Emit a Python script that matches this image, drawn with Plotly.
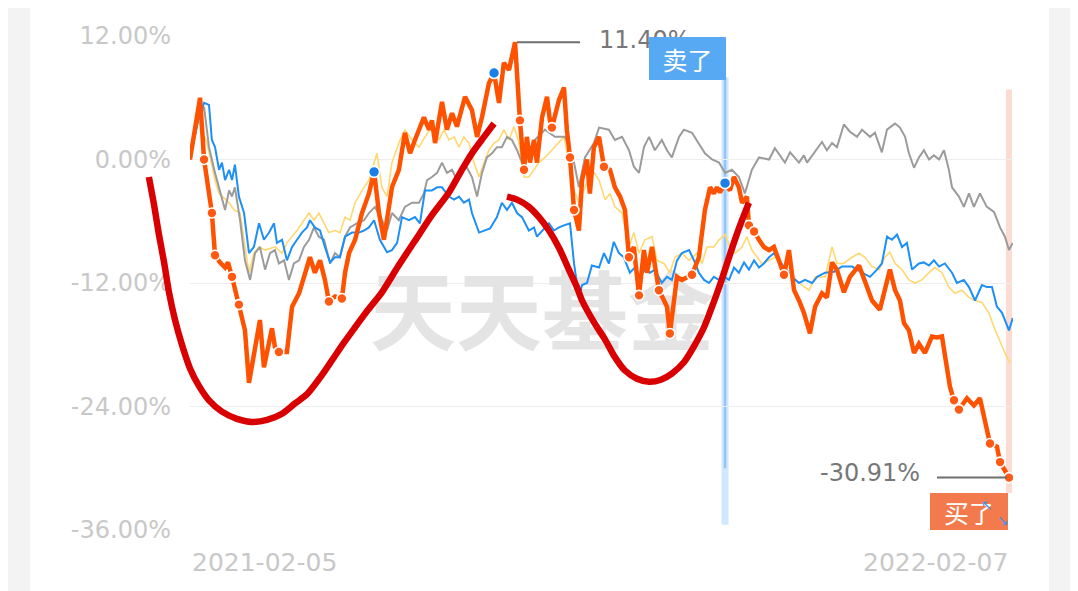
import pandas as pd
import plotly.graph_objects as go

# ---------------- data (days since start, return in %) ----------------
START = pd.Timestamp("2021-02-05")
END_DAY = 367  # 2022-02-07

orange_points = [
    (0, 0.0), (4.5, 6.0), (6.3, 0.0), (9.8, -5.2), (11.2, -9.3), (13.4, -10.0), (15.7, -10.5), (17.0, -10.0), (18.8, -11.4), (21.9, -14.1),
    (24.6, -16.6), (26.4, -21.7), (28.6, -18.8), (31.3, -15.6), (33.1, -20.2), (36.7, -16.4), (38.0, -18.2), (39.8, -18.7), (43.4, -18.7), (45.7, -14.3),
    (48.8, -13.0), (50.1, -12.0), (52.4, -10.4), (53.7, -9.5), (55.9, -11.0), (58.2, -9.8), (60.4, -11.7), (62.2, -13.8), (64.9, -13.3), (68.0, -13.5),
    (69.4, -11.0), (71.2, -9.1), (73.9, -7.8), (77.0, -5.2), (80.1, -3.3), (82.4, -1.2), (84.6, -5.2), (86.8, -7.8), (90.4, -2.7), (93.5, -1.0),
    (96.2, 2.6), (98.5, 0.6), (100.7, 1.9), (104.7, 4.1), (107.0, 2.9), (108.3, 3.8), (109.7, 1.6), (112.8, 5.6), (115.0, 2.9), (117.3, 4.5),
    (119.5, 3.2), (123.1, 6.1), (126.2, 4.8), (128.5, 2.2), (130.7, 4.1), (133.8, 7.4), (136.1, 8.4), (138.3, 5.5), (140.5, 9.4), (142.8, 8.7),
    (145.5, 11.4), (147.3, 4.5), (147.7, 3.8), (149.5, -1.0), (150.8, 2.2), (152.2, -0.3), (154.0, 1.9), (155.3, -0.3), (157.6, 4.1), (159.8, 6.1),
    (161.1, 3.8), (162.0, 3.1), (165.2, 5.8), (167.4, 7.0), (168.7, 2.9), (170.1, 0.2), (171.9, -4.9), (174.1, -6.9), (175.5, -2.0), (177.7, 0.0),
    (179.0, -3.3), (180.8, 1.2), (183.1, 2.2), (185.3, -0.7), (188.0, -1.0), (190.2, -2.7), (192.5, -3.6), (194.7, -4.9), (196.5, -9.5), (198.7, -8.5),
    (201.0, -13.2), (203.2, -8.8), (204.6, -11.0), (206.8, -8.5), (209.9, -12.7), (212.2, -13.7), (213.5, -14.3), (214.8, -16.9), (216.6, -13.9), (218.0, -11.4),
    (220.2, -11.7), (223.4, -11.4), (224.7, -11.2), (227.8, -9.5), (230.5, -4.9), (232.8, -2.7), (234.5, -3.3), (235.9, -2.7), (237.2, -3.2), (239.5, -2.3),
    (241.7, -3.0), (243.5, -1.7), (245.7, -2.7), (247.1, -4.2), (249.3, -3.6), (250.2, -6.4), (252.5, -7.0), (254.7, -7.8), (256.9, -8.5), (259.2, -8.8),
    (261.4, -8.5), (263.6, -9.8), (265.9, -11.2), (268.1, -8.8), (270.4, -12.7), (272.6, -13.7), (274.8, -14.9), (277.5, -16.9), (279.8, -14.3), (282.9, -13.0),
    (285.1, -13.4), (287.4, -10.0), (289.6, -10.7), (292.7, -12.9), (295.4, -11.4), (299.5, -10.3), (302.1, -11.7), (305.3, -13.7), (308.8, -14.6), (311.1, -12.4),
    (313.3, -10.7), (315.6, -12.7), (317.8, -13.7), (319.6, -15.9), (321.8, -16.6), (324.1, -18.8), (326.3, -17.9), (329.0, -18.8), (332.1, -17.2), (334.4, -17.3),
    (336.6, -17.2), (338.8, -20.2), (340.2, -22.1), (342.0, -23.4), (344.2, -24.3), (347.8, -23.2), (350.9, -23.9), (353.6, -23.2), (355.8, -25.3), (358.1, -27.6),
    (361.2, -27.9), (362.6, -29.4), (366.6, -30.91),
]

blue_points = [
    (0, 0.0), (3.6, 3.8), (6.3, 5.5), (8.5, 5.3), (9.8, 1.9), (11.2, 1.2), (13.0, -1.0), (14.3, -0.3), (15.7, -2.0), (17.5, -1.0),
    (18.8, -2.0), (20.1, -0.5), (21.9, -3.6), (24.2, -5.2), (26.4, -9.1), (28.6, -8.5), (30.9, -6.2), (33.1, -7.8), (35.4, -7.1), (37.6, -6.2),
    (38.9, -8.1), (41.2, -7.8), (43.4, -9.8), (45.7, -8.5), (47.9, -7.8), (50.1, -7.1), (52.4, -6.6), (53.7, -5.9), (55.9, -6.6), (58.2, -6.9),
    (60.4, -8.5), (62.7, -10.0), (64.9, -9.5), (67.1, -9.5), (69.4, -7.5), (72.5, -7.1), (75.6, -7.1), (77.9, -6.9), (80.1, -6.6), (82.4, -5.9),
    (85.0, -7.8), (88.2, -9.0), (90.4, -8.8), (92.7, -8.1), (94.9, -5.6), (98.0, -5.9), (100.7, -5.6), (102.9, -6.2), (105.2, -3.0), (108.3, -3.0),
    (110.6, -2.7), (112.8, -2.7), (115.9, -3.6), (118.2, -3.9), (120.4, -3.6), (122.6, -4.2), (124.9, -3.9), (126.2, -5.2), (129.4, -7.1), (132.0, -6.9),
    (134.3, -6.7), (137.4, -5.6), (139.6, -4.2), (141.9, -4.9), (144.1, -4.2), (146.4, -5.2), (148.6, -5.6), (151.7, -6.9), (154.0, -6.6), (155.3, -7.5),
    (157.6, -6.9), (160.7, -6.2), (162.9, -6.9), (165.2, -6.6), (167.4, -6.4), (170.1, -6.2), (171.9, -10.1), (174.1, -13.4), (175.5, -12.2), (177.7, -12.0),
    (179.9, -10.3), (183.1, -10.5), (185.3, -9.1), (187.5, -10.1), (189.7, -8.0), (192.0, -9.1), (194.2, -9.5), (196.9, -11.0), (199.1, -10.5), (201.4, -11.4),
    (203.6, -10.7), (205.9, -11.0), (208.1, -10.7), (211.2, -12.0), (213.5, -11.4), (215.7, -11.7), (218.0, -9.8), (220.2, -9.1), (223.4, -8.8), (225.6, -9.8),
    (227.8, -11.0), (230.1, -11.7), (232.3, -12.0), (234.5, -11.4), (236.8, -11.7), (239.0, -11.4), (241.3, -11.7), (243.5, -10.5), (245.7, -11.0), (248.0, -10.0),
    (250.2, -10.7), (252.5, -9.8), (254.7, -10.5), (256.9, -10.1), (259.2, -9.5), (261.4, -9.1), (263.6, -9.8), (269.5, -11.4), (272.6, -12.0), (275.3, -11.7),
    (278.5, -12.0), (280.7, -11.4), (284.3, -11.0), (288.3, -10.9), (291.9, -10.4), (296.4, -10.4), (300.8, -11.0), (304.4, -11.4), (307.5, -10.7), (309.7, -10.1),
    (312.0, -7.5), (314.2, -7.8), (316.5, -7.3), (318.7, -8.5), (320.9, -8.1), (323.2, -10.7), (326.3, -10.1), (328.5, -10.0), (330.8, -10.3), (333.0, -9.8),
    (335.3, -10.4), (337.9, -10.1), (341.1, -11.0), (343.3, -12.0), (346.4, -11.7), (348.7, -12.4), (351.4, -13.7), (354.5, -12.2), (356.7, -12.4), (359.0, -12.4),
    (361.2, -14.3), (363.5, -14.9), (366.6, -16.6), (368.3, -15.4),
]

gray_points = [
    (0, 0.0), (3.6, 3.8), (6.3, 5.1), (8.5, 1.2), (11.2, -1.3), (13.4, -3.0), (15.7, -4.9), (17.5, -3.0), (18.8, -3.6), (20.1, -2.7),
    (22.4, -5.9), (24.6, -9.8), (26.9, -11.7), (29.1, -9.1), (31.3, -8.5), (33.6, -10.7), (35.8, -9.1), (38.0, -8.8), (39.8, -10.1), (42.1, -9.8),
    (44.3, -11.7), (46.5, -10.1), (48.8, -9.8), (51.0, -8.5), (53.3, -7.8), (55.5, -6.6), (57.7, -7.5), (60.0, -7.8), (62.7, -10.1), (64.9, -9.1),
    (67.1, -9.5), (69.4, -7.5), (71.6, -6.6), (74.7, -6.2), (77.9, -5.9), (80.1, -5.2), (82.8, -4.6), (85.9, -5.9), (88.2, -6.9), (90.4, -5.2),
    (93.5, -5.9), (96.2, -4.6), (99.4, -4.2), (102.5, -4.2), (104.7, -3.3), (106.1, -2.0), (108.3, -1.7), (110.6, -1.3), (112.8, -0.3), (115.0, -1.3),
    (117.3, -1.0), (119.5, -2.0), (121.7, -1.0), (124.0, -0.8), (126.2, -1.7), (128.5, -3.6), (130.7, -1.3), (132.9, 0.2), (135.2, 0.6), (137.4, 1.2),
    (139.6, 1.2), (141.9, 2.2), (144.1, 1.9), (146.4, 0.9), (148.6, -0.3), (151.7, 0.9), (154.4, 1.9), (158.9, 2.9), (163.4, 2.2), (167.9, 2.2),
    (171.9, -0.3), (174.1, -2.7), (176.8, 0.2), (180.8, 1.6), (183.1, 3.1), (187.5, 2.9), (190.2, 1.9), (193.4, 2.2), (196.5, 0.9), (198.7, -0.7),
    (201.0, -1.3), (203.2, 1.2), (205.5, 2.2), (208.1, 0.9), (211.2, 1.9), (213.5, 0.9), (215.7, 0.2), (218.9, 2.2), (221.1, 2.9), (224.7, 2.6),
    (227.8, 1.6), (230.5, 0.6), (233.7, 0.0), (236.8, -0.3), (239.5, -1.3), (242.6, -1.0), (245.7, -1.7), (248.4, -3.3), (251.5, -1.0), (254.7, 0.2),
    (259.2, 0.0), (261.8, 1.1), (266.3, -0.3), (268.6, 0.7), (272.6, -0.3), (274.8, 0.4), (276.2, -0.3), (279.3, 0.6), (282.9, 1.7), (285.1, 0.9),
    (287.4, 1.6), (289.6, 1.2), (292.7, 3.4), (295.4, 2.7), (298.6, 2.2), (300.8, 2.9), (304.4, 2.2), (306.6, 2.6), (309.7, 0.7), (312.0, 2.9),
    (315.6, 3.5), (317.8, 3.1), (320.1, 2.2), (321.8, 0.6), (324.1, -0.8), (326.3, 0.2), (328.5, 0.9), (330.8, 0.0), (333.0, 0.4), (335.3, 0.0),
    (337.5, 0.9), (339.7, -1.0), (341.1, -2.7), (344.2, -3.6), (346.4, -4.6), (348.7, -3.3), (350.9, -4.6), (353.6, -3.3), (356.7, -4.6), (359.9, -5.1),
    (362.6, -6.6), (364.8, -7.5), (366.6, -8.8), (368.3, -8.1),
]

yellow_points = [
    (0, 0.0), (3.6, 3.8), (7.6, 1.6), (11.2, -2.0), (13.0, -3.3), (17.5, -4.2), (19.7, -4.9), (22.4, -5.2), (26.4, -11.0), (28.6, -9.1),
    (30.9, -8.5), (33.6, -8.8), (38.0, -8.5), (41.2, -9.1), (43.4, -8.1), (45.7, -7.5), (47.9, -6.9), (50.1, -6.2), (53.3, -5.2), (55.5, -5.9),
    (57.7, -5.2), (60.0, -6.2), (62.2, -7.1), (64.9, -6.9), (67.1, -7.1), (69.4, -5.6), (71.6, -5.9), (73.9, -4.2), (77.0, -3.0), (80.1, -2.0),
    (83.7, 0.6), (85.9, -2.7), (88.2, -3.6), (90.4, -0.3), (93.5, 1.6), (96.2, 2.9), (99.4, 1.9), (102.5, 1.2), (105.2, 2.2), (108.3, 3.2),
    (111.5, 1.9), (113.7, 2.9), (115.9, 1.9), (118.2, 2.2), (120.4, 1.2), (122.6, 2.2), (124.9, 1.6), (127.1, -0.3), (129.4, -1.7), (131.6, -0.3),
    (133.8, 0.9), (136.1, 1.6), (138.3, 1.9), (140.5, 2.9), (142.8, 1.9), (145.0, 3.2), (147.3, 1.6), (149.5, -1.7), (151.7, -1.7), (154.0, -1.0),
    (156.2, -0.3), (158.9, 0.2), (162.0, 0.9), (165.2, 1.6), (167.4, 2.2), (169.6, -0.3), (171.9, -3.0), (174.1, -4.2), (176.3, -3.0), (179.9, -1.0),
    (183.1, -2.0), (185.8, -3.9), (188.0, -3.3), (190.2, -4.6), (193.4, -5.2), (196.5, -8.5), (198.7, -7.1), (201.0, -9.1), (203.6, -7.8), (206.8, -7.5),
    (209.0, -9.8), (212.2, -10.1), (214.8, -11.0), (217.1, -9.5), (220.2, -9.1), (223.4, -9.8), (227.0, -9.1), (229.2, -10.1), (231.4, -8.5), (234.5, -8.5),
    (236.8, -7.8), (239.5, -7.3), (241.7, -8.5), (244.0, -9.1), (247.1, -8.5), (249.3, -7.5), (251.5, -8.8), (253.8, -9.5), (256.0, -10.1), (259.2, -9.8),
    (261.8, -9.5), (265.0, -10.3), (270.8, -11.7), (277.1, -12.7), (279.8, -11.4), (284.3, -11.4), (287.4, -8.5), (289.6, -10.1), (292.7, -10.1), (296.3, -9.5),
    (299.5, -9.1), (302.1, -9.5), (305.3, -10.4), (308.4, -10.7), (311.1, -9.5), (313.3, -9.0), (315.6, -10.1), (318.7, -10.7), (321.8, -11.7), (324.5, -12.0),
    (327.6, -11.7), (330.8, -11.0), (333.5, -10.5), (336.6, -11.0), (339.7, -12.4), (342.4, -13.0), (345.5, -12.7), (348.7, -13.4), (351.4, -13.7), (354.5, -13.9),
    (357.6, -14.9), (359.9, -16.3), (362.1, -17.5), (364.8, -18.8), (367.0, -19.8),
]

buy_days = [6.3, 9.8, 11.2, 18.8, 21.9, 39.8, 62.2, 68.0, 147.7, 149.5, 162.0, 170.1, 171.9, 185.3,
            196.5, 201.0, 209.9, 214.8, 224.7, 250.2, 252.5, 265.9, 342.0, 344.2, 358.1, 362.6, 366.6]
sell_days = [82.4, 136.1, 239.5]

# hand-drawn red strokes (days, %)
stroke_left = [
    (-18.4, -1.7), (-16.1, -4.4), (-13.9, -7.3), (-11.6, -10.0), (-9.4, -12.9), (-6.7, -15.6), (-3.6, -18.0), (0.0, -20.3),
    (4.0, -22.0), (8.5, -23.4), (14.3, -24.5), (21.0, -25.2), (27.7, -25.5), (34.5, -25.3), (41.2, -24.7), (47.0, -23.7),
    (52.4, -22.8), (58.2, -21.2), (63.6, -19.5), (68.9, -17.8), (73.9, -16.3), (79.7, -14.6), (85.9, -12.9), (93.1, -10.4),
    (100.7, -7.9), (108.3, -5.4), (115.9, -3.2), (121.7, -1.0), (126.2, 0.6), (131.6, 2.2), (136.1, 3.5),
]
stroke_right = [
    (141.9, -3.6), (146.4, -3.9), (151.7, -4.6), (156.2, -5.6), (160.7, -6.9), (165.2, -8.6), (169.6, -10.7), (173.2, -12.4),
    (175.5, -13.7), (180.8, -15.8), (185.8, -17.5), (190.2, -19.2), (194.7, -20.5), (200.1, -21.3), (205.5, -21.6), (210.8, -21.4),
    (215.7, -20.8), (221.1, -19.7), (226.0, -18.0), (230.1, -16.3), (233.7, -14.3), (237.2, -12.2), (241.3, -9.5), (244.4, -7.5),
    (247.1, -5.9), (250.2, -4.2),
]

y_ticks = [12, 0, -12, -24, -36]
watermark_text = "天天基金"
sell_label = "卖了"
buy_label = "买了"

# ---------------- layout geometry ----------------
PAGE_W, PAGE_H = 1078, 591
BODY_MARGIN = 8                      # default page margin around the plot div
W, H = PAGE_W - BODY_MARGIN, PAGE_H - BODY_MARGIN
PLOT_L, PLOT_R = 190 - BODY_MARGIN, 1013 - BODY_MARGIN
PLOT_T, PLOT_B = 36 - BODY_MARGIN, 530 - BODY_MARGIN
X_MAX = 368.4
Y_MIN, Y_MAX = -36, 12


def D(d):
    return START + pd.Timedelta(days=float(d))


def Ds(d):
    return D(d).strftime("%Y-%m-%d %H:%M:%S")


def unzip(pts):
    return [D(p[0]) for p in pts], [p[1] for p in pts]


px_per_day = (PLOT_R - PLOT_L) / X_MAX
px_per_pct = (PLOT_B - PLOT_T) / (Y_MAX - Y_MIN)
x2_min = -PLOT_L / px_per_day
x2_max = X_MAX + (W - PLOT_R) / px_per_day
y2_min = Y_MIN - (H - PLOT_B) / px_per_pct
y2_max = Y_MAX + PLOT_T / px_per_pct

ORANGE = "#ff5200"
BLUE = "#1e8ff5"
GRAY = "#9b9b9b"
YELLOW = "#ffd872"
RED = "#d80000"

fig = go.Figure()

# watermark (beneath lines)
fig.add_trace(go.Scatter(
    x=[D(157.6)], y=[-15.8], mode="text", text=[watermark_text],
    textfont=dict(size=86, color="#e4e4e4", family="Noto Sans CJK SC", weight=700),
    hoverinfo="skip", showlegend=False))

for pts, color, width in [(yellow_points, YELLOW, 1.6), (gray_points, GRAY, 2.0),
                          (blue_points, BLUE, 2.0), (orange_points, ORANGE, 4.5)]:
    xs, ys = unzip(pts)
    fig.add_trace(go.Scatter(x=xs, y=ys, mode="lines",
                             line=dict(color=color, width=width, shape="linear"),
                             hoverinfo="skip", showlegend=False))

orange_lookup = dict(orange_points)
fig.add_trace(go.Scatter(
    x=[D(d) for d in buy_days], y=[orange_lookup[d] for d in buy_days], mode="markers",
    marker=dict(size=10, color="#ff5a14", line=dict(color="white", width=1.6)),
    hoverinfo="skip", showlegend=False))
fig.add_trace(go.Scatter(
    x=[D(d) for d in sell_days], y=[orange_lookup[d] for d in sell_days], mode="markers",
    marker=dict(size=11, color="#1a7fe6", line=dict(color="white", width=1.6)),
    hoverinfo="skip", showlegend=False))

# red hand-drawn strokes on full-figure overlay axes
for pts in (stroke_left, stroke_right):
    xs, ys = unzip(pts)
    fig.add_trace(go.Scatter(x=xs, y=ys, mode="lines", xaxis="x2", yaxis="y2",
                             line=dict(color=RED, width=6.5, shape="spline", smoothing=0.8),
                             hoverinfo="skip", showlegend=False))

peak_day, peak_val = max(orange_points, key=lambda p: p[1])
last_day, last_val = orange_points[-1]
sell_day = sell_days[-1]

shapes = [
    dict(type="rect", xref="paper", yref="paper", x0=0, x1=(30 - BODY_MARGIN) / W, y0=0, y1=1,
         fillcolor="#f3f3f3", line=dict(width=0), layer="below"),
    dict(type="rect", xref="paper", yref="paper", x0=(1049 - BODY_MARGIN) / W, x1=1, y0=0, y1=1,
         fillcolor="#f3f3f3", line=dict(width=0), layer="below"),
    # sell vertical line
    dict(type="line", xref="x", yref="y", x0=Ds(sell_day), x1=Ds(sell_day), y0=-35.5, y1=8,
         line=dict(color="rgba(120,185,248,0.35)", width=7), layer="below"),
    dict(type="line", xref="x", yref="y", x0=Ds(sell_day), x1=Ds(sell_day), y0=-30, y1=8,
         line=dict(color="rgba(95,170,245,0.55)", width=2.5), layer="below"),
    # buy vertical line at last date
    dict(type="line", xref="x", yref="y", x0=Ds(last_day), x1=Ds(last_day), y0=-32.4, y1=6.8,
         line=dict(color="rgba(245,135,105,0.30)", width=6), layer="below"),
    # peak leader line
    dict(type="line", xref="x", yref="y", xsizemode="pixel", xanchor=Ds(peak_day), x0=2, x1=65,
         y0=peak_val, y1=peak_val, line=dict(color="#6e6e6e", width=2)),
    # last-value leader line
    dict(type="line", xref="x", yref="y", xsizemode="pixel", xanchor=Ds(last_day), x0=-72, x1=-2,
         y0=last_val, y1=last_val, line=dict(color="#6e6e6e", width=2)),
]

label_font = dict(family="DejaVu Sans", size=24, color="#777777")
x_label_y = (H - (562 - BODY_MARGIN)) / H
annotations = [
    dict(x=Ds(peak_day), y=peak_val, xref="x", yref="y", text=f"{peak_val:.2f}%", showarrow=False,
         xanchor="left", yanchor="middle", xshift=82, yshift=2, font=label_font),
    dict(x=Ds(last_day), y=last_val, xref="x", yref="y", text=f"{last_val:.2f}%", showarrow=False,
         xanchor="right", yanchor="middle", xshift=-87, yshift=5, font=label_font),
    dict(x=Ds(sell_day), y=Y_MAX, xref="x", yref="y", text=sell_label, showarrow=False,
         xanchor="right", yanchor="top", xshift=1, yshift=-1, width=77, height=43,
         bgcolor="#56a9f2", borderpad=0, borderwidth=0,
         font=dict(family="Noto Sans CJK SC", size=25, color="white")),
    dict(x=Ds(last_day), y=Y_MIN, xref="x", yref="y", text=buy_label, showarrow=False,
         xanchor="right", yanchor="bottom", xshift=-1, yshift=0, width=78, height=37,
         bgcolor="#f27a4c", borderpad=0, borderwidth=0,
         font=dict(family="Noto Sans CJK SC", size=25, color="white")),
    dict(x=Ds(last_day), y=Y_MIN, xref="x", yref="y", text="↖", showarrow=False,
         xanchor="center", yanchor="middle", xshift=-22, yshift=25,
         font=dict(family="DejaVu Sans", size=14, color="#3f8ff2")),
    dict(x=Ds(last_day), y=Y_MIN, xref="x", yref="y", text="↘", showarrow=False,
         xanchor="center", yanchor="middle", xshift=-6, yshift=10,
         font=dict(family="DejaVu Sans", size=14, color="#3f8ff2")),
    dict(x=Ds(0), y=x_label_y, xref="x", yref="paper", text=START.strftime("%Y-%m-%d"),
         showarrow=False, xanchor="left", yanchor="middle",
         font=dict(family="DejaVu Sans", size=25, color="#c8c8c8")),
    dict(x=Ds(END_DAY), y=x_label_y, xref="x", yref="paper", text=D(END_DAY).strftime("%Y-%m-%d"),
         showarrow=False, xanchor="right", yanchor="middle",
         font=dict(family="DejaVu Sans", size=25, color="#c8c8c8")),
]

fig.update_layout(
    width=W, height=H, margin=dict(l=0, r=0, t=0, b=0, autoexpand=False),
    paper_bgcolor="white", plot_bgcolor="rgba(0,0,0,0)",
    showlegend=False, hovermode=False,
    xaxis=dict(type="date", domain=[PLOT_L / W, PLOT_R / W], range=[Ds(0), Ds(X_MAX)],
               visible=False, anchor="y", automargin=False),
    yaxis=dict(domain=[(H - PLOT_B) / H, (H - PLOT_T) / H], range=[Y_MIN, Y_MAX],
               tickvals=y_ticks, ticktext=[f"{v:.2f}%" for v in y_ticks],
               showgrid=True, gridcolor="#eeeeee", gridwidth=1, zeroline=False,
               showline=False, ticks="", ticklabelstandoff=18, automargin=False,
               tickfont=dict(family="DejaVu Sans", size=24, color="#c8c8c8"), anchor="x"),
    xaxis2=dict(type="date", domain=[0, 1], range=[Ds(x2_min), Ds(x2_max)], visible=False,
                anchor="y2", automargin=False),
    yaxis2=dict(domain=[0, 1], range=[y2_min, y2_max], visible=False, anchor="x2", automargin=False),
    shapes=shapes, annotations=annotations,
)

fig.write_html("out.html")
